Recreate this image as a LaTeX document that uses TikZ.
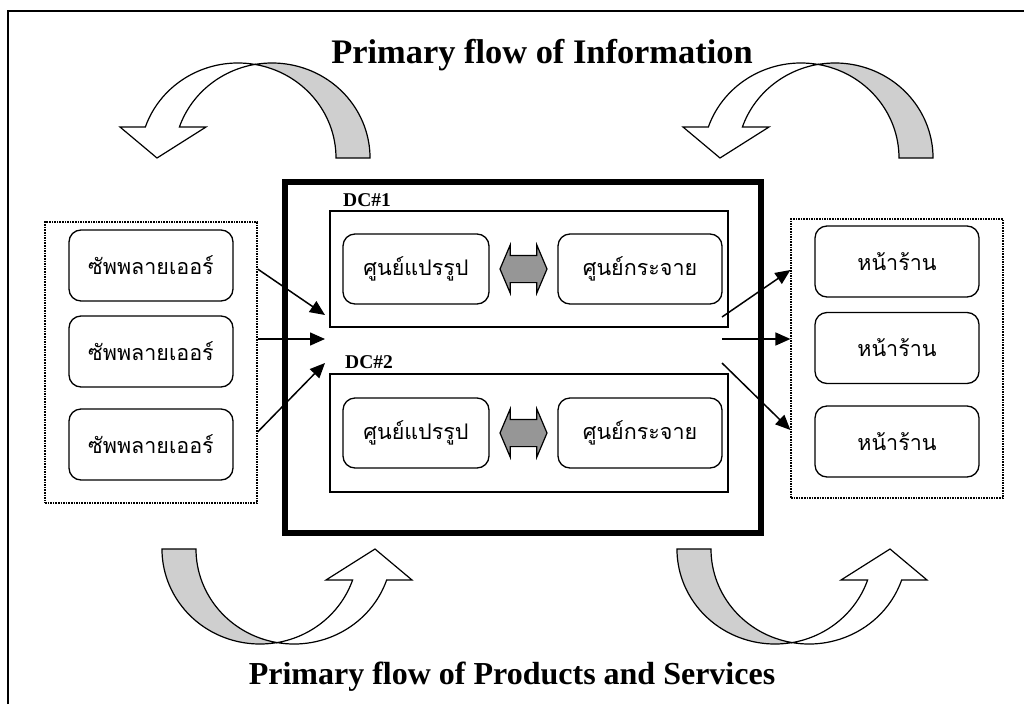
\documentclass[tikz,border=0pt]{standalone}
\usepackage{fontspec}
\setmainfont{Liberation Serif}
\newfontfamily\thaifont[Script=Thai]{Loma}
\usepackage{tikz}
\usetikzlibrary{arrows.meta,positioning,calc,shapes.arrows}
\definecolor{backgray}{HTML}{CFCFCF}
\definecolor{swapgray}{HTML}{969696}
\tikzset{unit/.style={draw,rounded corners=12pt,line width=1.3pt,minimum width=164pt,
    minimum height=71pt,inner sep=0pt,font=\thaifont\fontsize{21.5}{24}\selectfont},
  group/.style={draw,dash pattern=on 1.6pt off 1pt,line width=1.2pt,inner sep=0pt},
  dcbox/.style={draw,line width=1.2pt,minimum width=398pt,inner sep=0pt},
  dclab/.style={font=\bfseries\fontsize{19.5}{22}\selectfont,anchor=base west,inner sep=0pt},
  title/.style={font=\bfseries\fontsize{34.4}{38}\selectfont,anchor=base,inner sep=0pt},
  swap/.style={double arrow,draw,fill=swapgray,line width=1.2pt,inner xsep=0pt,inner ysep=13pt,
    minimum height=47pt,minimum width=47pt,double arrow head extend=10.5pt,double arrow tip angle=134},
  flow/.style={-{Triangle[length=15pt,width=13pt]},line width=1.5pt},
  curvarr/.pic={
    \filldraw[fill=backgray,line width=1.2pt] (81,0) arc[start angle=0,end angle=80,x radius=98,y radius=95]
      arc[start angle=100,end angle=0,x radius=98,y radius=95] -- cycle;
    \filldraw[fill=white,line width=1.2pt] (0,93.56) arc[start angle=80,end angle=161,x radius=98,y radius=95]
      -- (-135,31) -- (-98,0) -- (-49,31) -- (-75.6,31)
      arc[start angle=161,end angle=100,x radius=98,y radius=95] -- cycle;
  }}
\begin{document}
\begin{tikzpicture}[x=1pt,y=1pt]
\useasboundingbox (0,-704) rectangle (1024,0);
\draw[line width=1.6pt] (8,-704) -- (8,-11) -- (1024,-11);
\node[title] (info) at (542,-63) {Primary flow of Information};
\node[title,font=\bfseries\fontsize{32}{36}\selectfont] (prod) at (512,-684) {Primary flow of Products and Services};
\pic at (255,-158) {curvarr};
\pic at (818,-158) {curvarr};
\pic[rotate=180] at (277,-549) {curvarr};
\pic[rotate=180] at (792,-549) {curvarr};
\node[draw,line width=6.5pt,minimum width=476pt,minimum height=351pt] (dcbig) at (523,-357.5) {};
\node[dcbox,minimum height=116pt] (dc1) at (529,-269) {};
\node[dcbox,minimum height=118pt] (dc2) at (529,-433) {};
\node[dclab] (dc1lab) at (343,-206) {DC\#1};
\node[dclab] (dc2lab) at (345,-368) {DC\#2};
\foreach \i/\y in {1/269,2/433}{
 \node[unit,minimum width=146pt,minimum height=70pt] (prc\i) at (416,-\y) {ศูนย์แปรรูป};
 \node[unit,minimum height=70pt] (dst\i) at (640,-\y) {ศูนย์กระจาย};
 \node[swap] (sw\i) at ($(prc\i.east)!.5!(dst\i.west)$) {};
}
\node[group,minimum width=212pt,minimum height=281pt] (supgrp) at (151,-362.5) {};
\node[group,minimum width=212pt,minimum height=279pt] (storegrp) at (897,-358.5) {};
\foreach \i/\y in {1/265.5,2/351.5,3/444.5}
 \node[unit] (sup\i) at (151,-\y) {ซัพพลายเออร์};
\foreach \i/\y in {1/261.5,2/348,3/441.5}
 \node[unit] (store\i) at (897,-\y) {หน้าร้าน};
\coordinate (a1) at (325,-315);
\coordinate (a2) at (325,-339);
\coordinate (a3) at (325,-363);
\coordinate (b1) at (722,-317);
\coordinate (b2) at (722,-339);
\coordinate (b3) at (722,-363);
\draw[flow] (supgrp.east |- 0,-269) -- (a1);
\draw[flow] (supgrp.east |- 0,-339) -- (a2);
\draw[flow] (supgrp.east |- 0,-432) -- (a3);
\draw[flow] (b1) -- (storegrp.west |- 0,-270);
\draw[flow] (b2) -- (storegrp.west |- 0,-339);
\draw[flow] (b3) -- (storegrp.west |- 0,-430);
\end{tikzpicture}
\end{document}
